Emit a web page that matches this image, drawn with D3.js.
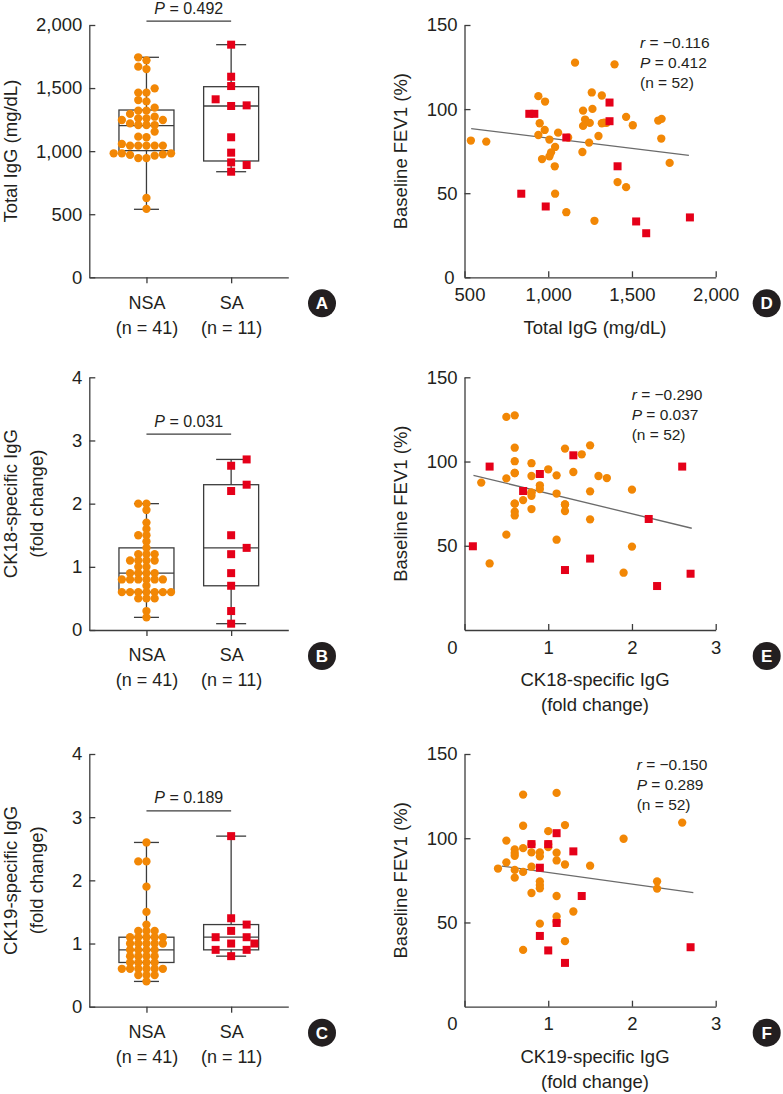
<!DOCTYPE html>
<html><head><meta charset="utf-8">
<script src="https://cdn.jsdelivr.net/npm/d3@7"></script>
<style>
body{margin:0;background:#fff}
svg{display:block}
text{font-family:"Liberation Sans",Arial,Helvetica,sans-serif;fill:#231f20}
</style>
</head><body>
<svg id="c" width="783" height="1094"></svg>
<script>
// ---------------- DATA ----------------
const groups = ["NSA", "SA"];
const groupN = ["(n = 41)", "(n = 11)"];

// Panel A: Total IgG (mg/dL)
const totalIgG_NSA = [1744,1720,1670,1651,1498,1464,1464,1405,1395,1345,1321,1321,1295,1273,1260,1260,1247,1247,1220,1207,1207,1207,1155,1115,1110,1057,1044,1044,1044,1044,1044,983,983,983,975,970,965,945,945,629,542];
const totalIgG_SA = [1844,1590,1516,1411,1363,1358,1110,988,911,890,837];
const totalIgG_boxNSA = [539, 1004, 1202, 1326, 1744]; // min, Q1, median, Q3, max
const totalIgG_boxSA  = [837, 922, 1358, 1511, 1844];
const totalIgG_ticks = [0, 500, 1000, 1500, 2000];

// Panel B: CK18-specific IgG (fold change)
const ck18_NSA = [2.0,2.0,1.9,1.7,1.6,1.5,1.5,1.4,1.3,1.2,1.2,1.2,1.1,1.1,1.1,1.1,1.0,1.0,0.9,0.9,0.9,0.9,0.8,0.8,0.8,0.8,0.8,0.8,0.7,0.6,0.6,0.6,0.6,0.6,0.6,0.6,0.5,0.5,0.5,0.3,0.2];
const ck18_SA = [2.7,2.6,2.3,2.2,1.5,1.3,1.2,0.9,0.7,0.3,0.1];
const ck18_boxNSA = [0.2, 0.6, 0.9, 1.3, 2.0];
const ck18_boxSA  = [0.1, 0.7, 1.3, 2.3, 2.7];

// Panel C: CK19-specific IgG (fold change)
const ck19_NSA = [2.6,2.3,2.3,1.9,1.5,1.3,1.2,1.2,1.2,1.1,1.1,1.1,1.1,1.1,1.0,1.0,1.0,1.0,1.0,0.9,0.9,0.9,0.9,0.8,0.8,0.8,0.8,0.7,0.7,0.7,0.7,0.6,0.6,0.6,0.6,0.6,0.6,0.5,0.5,0.5,0.4];
const ck19_SA = [2.7,1.4,1.3,1.2,1.1,1.1,1.0,1.0,0.9,0.9,0.8];
const ck19_boxNSA = [0.4, 0.7, 0.9, 1.1, 2.6];
const ck19_boxSA  = [0.8, 0.9, 1.1, 1.3, 2.7];
const fold_ticks = [0, 1, 2, 3, 4];

const pValuesBox = ["0.492", "0.031", "0.189"];
const pBracketY = [2030, 3.1, 3.1];

// Panel D: Total IgG vs baseline FEV1 (%)
const fevTotal_NSA = [[538,81.3],[630,80.7],[941,107.7],[981,104.5],[949,91.6],[979,87.6],[941,84.6],[1007,81.9],[1059,86.0],[1119,83.1],[1041,77.5],[1017,74.3],[1007,71.9],[963,70.3],[1039,66.0],[1041,49.7],[1108,38.7],[1160,127.6],[1396,126.6],[1260,109.9],[1320,108.1],[1264,100.1],[1208,99.1],[1220,93.8],[1248,91.8],[1208,90.0],[1320,91.6],[1348,91.8],[1300,84.0],[1244,80.1],[1204,74.5],[1465,95.4],[1505,90.4],[1657,93.2],[1677,94.2],[1675,82.5],[1725,68.0],[1414,56.6],[1465,53.6],[1276,33.6],[1335,92.0]];
const fevTotal_SA = [[887,97.2],[917,97.2],[1366,103.9],[1366,92.8],[1108,83.1],[1414,66.0],[839,49.7],[985,42.1],[1525,33.2],[1585,26.2],[1846,35.6]];
const fevTotal_fit = [[540,88.4],[1840,72.5]];
const totalIgG_xticks = [500, 1000, 1500, 2000];

// Panel E: CK18 vs FEV1
const fevCk18_NSA = [[0.2,87.5],[0.3,39.5],[0.5,126.5],[0.6,127.4],[0.6,108.2],[0.6,100.2],[0.6,93.2],[0.5,90.0],[0.6,75.0],[0.6,70.2],[0.6,68.0],[0.5,56.6],[0.7,77.1],[0.8,99.0],[0.8,91.4],[0.8,81.6],[0.8,79.7],[0.8,71.8],[0.9,85.9],[0.9,83.7],[1.0,95.4],[1.1,91.8],[1.1,81.0],[1.1,53.6],[1.2,107.7],[1.2,74.5],[1.2,70.6],[1.3,93.8],[1.4,104.3],[1.5,109.6],[1.5,82.3],[1.5,65.7],[1.6,91.4],[1.7,90.2],[2.0,83.3],[2.0,49.5],[1.9,34.0],[0.6,75.0],[0.6,93.2],[0.8,81.6],[1.2,74.5]];
const fevCk18_SA = [[0.1,49.7],[0.3,97.0],[0.7,82.5],[0.9,92.6],[1.2,35.6],[1.3,103.7],[1.5,42.4],[2.2,65.9],[2.3,26.1],[2.6,97.0],[2.7,33.4]];
const fevCk18_fit = [[0.107,91.8],[2.714,60.4]];

// Panel F: CK19 vs FEV1
const fevCk19_NSA = [[0.4,82.0],[0.5,98.6],[0.5,85.7],[0.6,93.4],[0.6,91.2],[0.6,89.6],[0.6,81.2],[0.6,76.6],[0.7,125.9],[0.7,107.4],[0.7,94.1],[0.7,80.0],[0.7,33.7],[0.8,91.6],[0.8,83.1],[0.8,67.5],[0.9,91.6],[0.9,89.2],[0.9,74.4],[0.9,72.2],[0.9,70.3],[0.9,49.3],[1.0,104.2],[1.0,94.7],[1.1,126.9],[1.1,91.4],[1.1,86.8],[1.1,65.7],[1.1,53.6],[1.2,107.8],[1.2,84.4],[1.2,38.9],[1.3,56.5],[1.5,83.7],[1.9,99.7],[2.3,74.4],[2.3,70.1],[2.6,109.3],[1.0,96.5],[0.8,96.5],[1.1,50.5]];
const fevCk19_SA = [[0.8,96.5],[1.0,96.5],[1.1,103.0],[1.3,92.2],[0.9,82.5],[1.4,65.7],[1.1,49.7],[0.9,42.0],[1.0,33.4],[1.2,26.0],[2.7,35.3]];
const fevCk19_fit = [[0.446,83.5],[2.733,67.7]];
const fold_xticks = [0, 1, 2, 3];
const fev_ticks_D = [0, 50, 100, 150];
const fev_ticks_EF = [50, 100, 150];

const corrStats = [["−0.116","0.412","52"],["−0.290","0.037","52"],["−0.150","0.289","52"]];
const panelLetters = ["A","B","C","D","E","F"];

// ---------------- STYLE ----------------
const ORANGE = "#F28705", RED = "#E50019", INK = "#231f20", LINE = "#3c3c3c";
const svg = d3.select("#c");
const fmtComma = d3.format(",");

function styleAxis(g, size) {
  g.attr("font-family", null).attr("font-size", null);
  g.selectAll("path.domain").attr("stroke", LINE).attr("stroke-width", 1.3);
  g.selectAll(".tick line").attr("stroke", LINE).attr("stroke-width", 1.3);
  g.selectAll(".tick text").attr("fill", INK).style("font-size", size + "px");
}

function letter(cx, cy, t) {
  svg.append("circle").attr("cx", cx).attr("cy", cy).attr("r", 14).attr("fill", INK);
  svg.append("text").attr("x", cx).attr("y", cy).attr("dy", "0.36em").attr("text-anchor", "middle")
    .style("font-size", "17px").style("font-weight", "bold").style("fill", "#fff").text(t);
}

// simple beeswarm over candidate slot offsets (in units of step)
const slotsLeftFirst = [0, -1, 1, -2, 2, -3, 3, -4, 4, -5, 5, -6, 6, -7, 7];
const slotsHalf = [0, 2, -2, 1, -1, 3, -3, 4, -4, 5, -5, 6, -6];
function swarm(vals, y, step, minDist, slots) {
  const placed = [], out = [];
  vals.map((v, i) => ({ v, i })).sort((a, b) => a.v - b.v).forEach(o => {
    const py = y(o.v);
    for (const s of slots) {
      const px = s * step;
      if (!placed.some(p => Math.hypot(p.px - px, p.py - py) < minDist)) {
        placed.push({ px, py }); out[o.i] = { v: o.v, dx: px }; return;
      }
    }
    out[o.i] = { v: o.v, dx: 0 };
  });
  return out;
}

function boxPanel(o) {
  const y = d3.scaleLinear().domain(o.yDomain).range([o.bottom, o.top]);
  const x = d3.scalePoint().domain(groups).range([89.3, 288.3]).padding(0.675);
  const g = svg.append("g");

  const ya = g.append("g").attr("transform", "translate(89.3,0)")
    .call(d3.axisLeft(y).tickValues(o.yTicks).tickFormat(o.fmt).tickSize(-6).tickPadding(7).tickSizeOuter(0));
  styleAxis(ya, 18.5);
  const xa = g.append("g").attr("transform", `translate(0,${o.bottom})`)
    .call(d3.axisBottom(x).tickSize(6).tickPadding(12.5).tickSizeOuter(0));
  styleAxis(xa, 18);
  xa.selectAll(".tick text").each(function (d, i) {
    d3.select(this).append("tspan").attr("x", 0).attr("dy", "1.4em").text(groupN[i]);
  });

  // y label
  const cy = (o.top + o.bottom) / 2;
  o.ylabel.forEach((t, i) => {
    const lx = o.ylabel.length === 1 ? 11 : (i === 0 ? 11 : 37);
    g.append("text").attr("transform", `translate(${lx},${cy}) rotate(-90)`).attr("dy", "0.35em")
      .attr("text-anchor", "middle").style("font-size", "18.5px").text(t);
  });

  // boxes
  const boxes = [o.boxNSA, o.boxSA];
  const capHalf = [12.5, 15];
  groups.forEach((gname, gi) => {
    const cx = x(gname), b = boxes[gi], hw = 27.5;
    const bg = g.append("g").attr("stroke", LINE).attr("stroke-width", 1.3).attr("fill", "none");
    bg.append("line").attr("x1", cx).attr("x2", cx).attr("y1", y(b[4])).attr("y2", y(b[3]));
    bg.append("line").attr("x1", cx).attr("x2", cx).attr("y1", y(b[1])).attr("y2", y(b[0]));
    bg.append("line").attr("x1", cx - capHalf[gi]).attr("x2", cx + capHalf[gi]).attr("y1", y(b[4])).attr("y2", y(b[4]));
    bg.append("line").attr("x1", cx - capHalf[gi]).attr("x2", cx + capHalf[gi]).attr("y1", y(b[0])).attr("y2", y(b[0]));
    bg.append("rect").attr("x", cx - hw).attr("width", 2 * hw).attr("y", y(b[3])).attr("height", y(b[1]) - y(b[3]));
    bg.append("line").attr("x1", cx - hw).attr("x2", cx + hw).attr("y1", y(b[2])).attr("y2", y(b[2]));
  });

  // points
  const sN = swarm(o.nsa, y, 8.2, 6.0, slotsLeftFirst);
  g.append("g").selectAll("circle").data(sN).join("circle")
    .attr("cx", d => x("NSA") + d.dx).attr("cy", d => y(d.v)).attr("r", 4.15).attr("fill", ORANGE);
  const sS = swarm(o.sa, y, 7.75, 8.6, slotsHalf);
  g.append("g").selectAll("rect").data(sS).join("rect")
    .attr("x", d => x("SA") + d.dx - 4).attr("y", d => y(d.v) - 4).attr("width", 8).attr("height", 8).attr("fill", RED);

  // P bracket
  const py = y(o.pY);
  g.append("line").attr("x1", x("NSA")).attr("x2", x("SA")).attr("y1", py).attr("y2", py)
    .attr("stroke", LINE).attr("stroke-width", 1.3);
  const pt = g.append("text").attr("x", (x("NSA") + x("SA")) / 2).attr("y", py - 7.5)
    .attr("text-anchor", "middle").style("font-size", "16px");
  pt.append("tspan").style("font-style", "italic").text("P");
  pt.append("tspan").text(" = " + o.p);

  letter(322, o.bottom + 26, o.letter);
}

function scatterPanel(o) {
  const x = d3.scaleLinear().domain(o.xDomain).range([464.5, 715.7]);
  const y = d3.scaleLinear().domain([0, 150]).range([o.bottom, o.top]);
  const g = svg.append("g");

  const ya = g.append("g").attr("transform", "translate(464.5,0)")
    .call(d3.axisLeft(y).tickValues(o.yTicks).tickSize(-6).tickPadding(7).tickSizeOuter(0));
  styleAxis(ya, 18.5);
  const xa = g.append("g").attr("transform", `translate(0,${o.bottom})`)
    .call(d3.axisBottom(x).tickValues(o.xTicks).tickFormat(o.fmt).tickSize(-6).tickPadding(10.5).tickSizeOuter(0));
  styleAxis(xa, 18.5);
  if (o.shiftZero) xa.selectAll(".tick text").filter(d => d === 0).attr("dx", -12.5);
  else {
    // first x label sits just right of the origin, the y "0" just left of it
    xa.selectAll(".tick text").filter(d => d === o.xDomain[0]).attr("dx", 5);
    ya.selectAll(".tick text").filter(d => d === 0).attr("dx", -3);
  }

  const cy = (o.top + o.bottom) / 2;
  g.append("text").attr("transform", `translate(401,${cy}) rotate(-90)`).attr("dy", "0.35em")
    .attr("text-anchor", "middle").style("font-size", "18.5px").text("Baseline FEV1 (%)");
  o.xlabel.forEach((t, i) => {
    g.append("text").attr("x", 595).attr("y", o.bottom + 50 + i * 24.5).attr("dy", "0.35em")
      .attr("text-anchor", "middle").style("font-size", "18.5px").text(t);
  });

  // regression line
  g.append("line").attr("x1", x(o.fit[0][0])).attr("y1", y(o.fit[0][1]))
    .attr("x2", x(o.fit[1][0])).attr("y2", y(o.fit[1][1]))
    .attr("stroke", "#6b6b6b").attr("stroke-width", 1.3);

  g.append("g").selectAll("circle").data(o.nsa).join("circle")
    .attr("cx", d => x(d[0])).attr("cy", d => y(d[1])).attr("r", 4.15).attr("fill", ORANGE);
  g.append("g").selectAll("rect").data(o.sa).join("rect")
    .attr("x", d => x(d[0]) - 4).attr("y", d => y(d[1]) - 4).attr("width", 8).attr("height", 8).attr("fill", RED);

  // stats
  const st = o.stats;
  const lines = [["r", " = " + st[0]], ["P", " = " + st[1]], [null, "(n = " + st[2] + ")"]];
  lines.forEach((l, i) => {
    const t = g.append("text").attr("x", o.annX).attr("y", o.annY + i * 20).attr("dy", "0.35em").style("font-size", "15.5px");
    if (l[0]) t.append("tspan").style("font-style", "italic").text(l[0]);
    t.append("tspan").text(l[1]);
  });

  letter(766.7, o.bottom + 26, o.letter);
}

// ---------------- DRAW ----------------
const rows = [{ top: 25, bottom: 277.3 }, { top: 377.3, bottom: 630 }, { top: 754, bottom: 1006.7 }];

boxPanel({ ...rows[0], yDomain: [0, 2000], yTicks: totalIgG_ticks, fmt: fmtComma, ylabel: ["Total IgG (mg/dL)"],
  nsa: totalIgG_NSA, sa: totalIgG_SA, boxNSA: totalIgG_boxNSA, boxSA: totalIgG_boxSA,
  p: pValuesBox[0], pY: pBracketY[0], letter: panelLetters[0] });
boxPanel({ ...rows[1], yDomain: [0, 4], yTicks: fold_ticks, fmt: d3.format("d"), ylabel: ["CK18-specific IgG", "(fold change)"],
  nsa: ck18_NSA, sa: ck18_SA, boxNSA: ck18_boxNSA, boxSA: ck18_boxSA,
  p: pValuesBox[1], pY: pBracketY[1], letter: panelLetters[1] });
boxPanel({ ...rows[2], yDomain: [0, 4], yTicks: fold_ticks, fmt: d3.format("d"), ylabel: ["CK19-specific IgG", "(fold change)"],
  nsa: ck19_NSA, sa: ck19_SA, boxNSA: ck19_boxNSA, boxSA: ck19_boxSA,
  p: pValuesBox[2], pY: pBracketY[2], letter: panelLetters[2] });

scatterPanel({ ...rows[0], xDomain: [500, 2000], xTicks: totalIgG_xticks, yTicks: fev_ticks_D, fmt: fmtComma, xlabel: ["Total IgG (mg/dL)"],
  nsa: fevTotal_NSA, sa: fevTotal_SA, fit: fevTotal_fit, stats: corrStats[0], annX: 640, annY: 42.7, letter: panelLetters[3] });
scatterPanel({ ...rows[1], xDomain: [0, 3], xTicks: fold_xticks, yTicks: fev_ticks_EF, fmt: d3.format("d"), shiftZero: true, xlabel: ["CK18-specific IgG", "(fold change)"],
  nsa: fevCk18_NSA, sa: fevCk18_SA, fit: fevCk18_fit, stats: corrStats[1], annX: 631.7, annY: 394.3, letter: panelLetters[4] });
scatterPanel({ ...rows[2], xDomain: [0, 3], xTicks: fold_xticks, yTicks: fev_ticks_EF, fmt: d3.format("d"), shiftZero: true, xlabel: ["CK19-specific IgG", "(fold change)"],
  nsa: fevCk19_NSA, sa: fevCk19_SA, fit: fevCk19_fit, stats: corrStats[2], annX: 636.7, annY: 765, letter: panelLetters[5] });
</script>
</body></html>
